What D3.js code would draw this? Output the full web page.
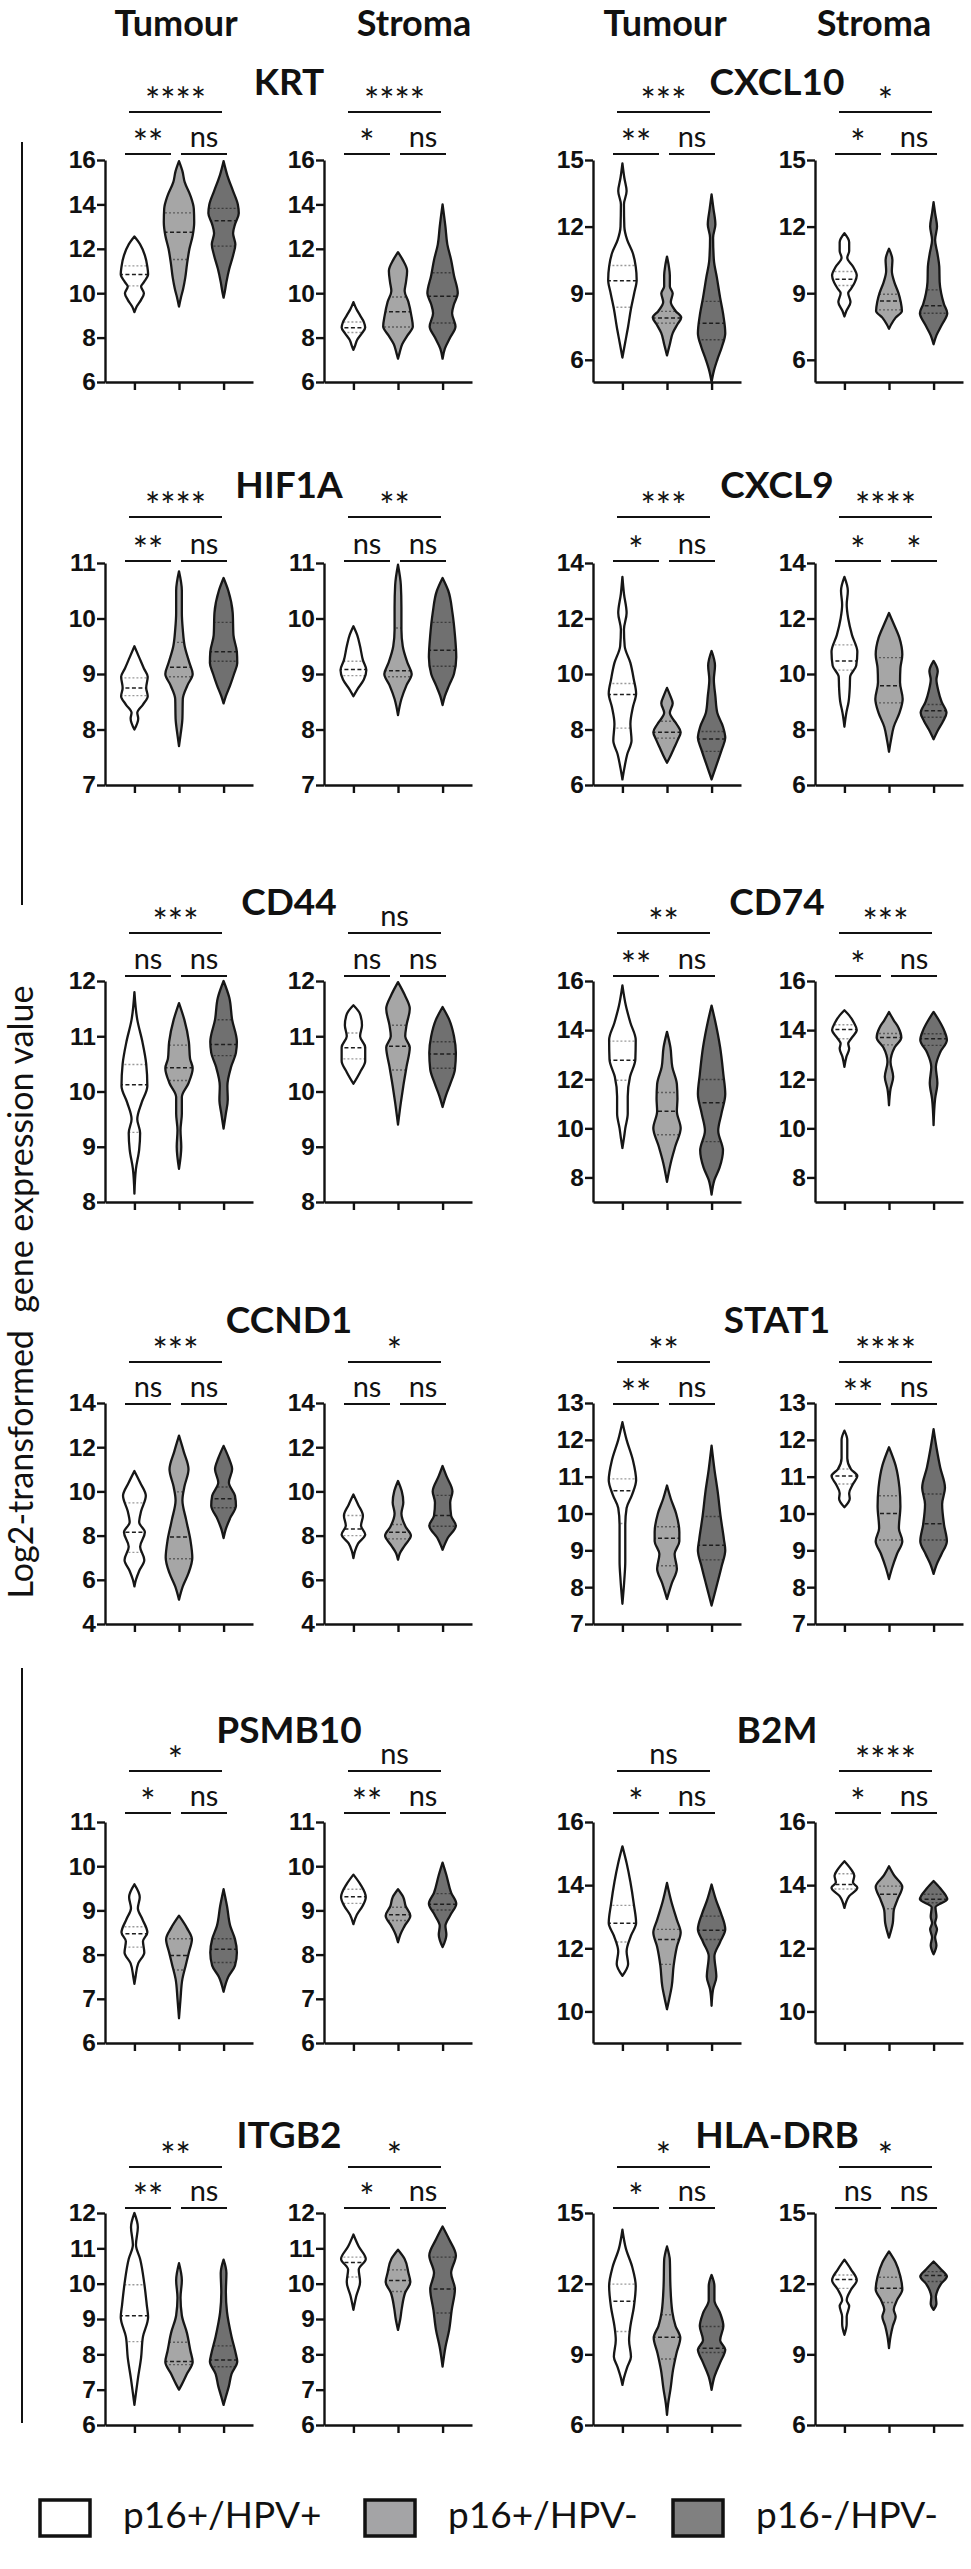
<!DOCTYPE html>
<html lang="en">
<head>
  <meta charset="UTF-8">
  <title>Violin panels</title>
  <style>
    body { margin: 0; background: #fff; }
    svg text { fill: #111; }
  </style>
  <script src="https://d3js.org/d3.v7.min.js"></script>
</head>
<body>
  <div id="chart"></div>
  <script>
    // -----------------------------
    // Data
    // -----------------------------
    const groups = ["p16+/HPV+", "p16+/HPV-", "p16-/HPV-"];
    const genes = ["KRT", "CXCL10", "HIF1A", "CXCL9", "CD44", "CD74",
                   "CCND1", "STAT1", "PSMB10", "B2M", "ITGB2", "HLA-DRB"];
    const yDomains = [[6, 16], [5, 15], [7, 11], [6, 14], [8, 12], [7, 16],
                      [4, 14], [7, 13], [6, 11], [9, 16], [6, 12], [6, 15]];
    const yTicks = [
      [6, 8, 10, 12, 14, 16], [6, 9, 12, 15], [7, 8, 9, 10, 11], [6, 8, 10, 12, 14],
      [8, 9, 10, 11, 12], [8, 10, 12, 14, 16], [4, 6, 8, 10, 12, 14], [7, 8, 9, 10, 11, 12, 13],
      [6, 7, 8, 9, 10, 11], [10, 12, 14, 16], [6, 7, 8, 9, 10, 11, 12], [6, 9, 12, 15]
    ];
    // [overall, group1 vs 2, group2 vs 3]
    const sigTumour = [["****", "**", "ns"], ["***", "**", "ns"], ["****", "**", "ns"], ["***", "*", "ns"],
                       ["***", "ns", "ns"], ["**", "**", "ns"], ["***", "ns", "ns"], ["**", "**", "ns"],
                       ["*", "*", "ns"], ["ns", "*", "ns"], ["**", "**", "ns"], ["*", "*", "ns"]];
    const sigStroma = [["****", "*", "ns"], ["*", "*", "ns"], ["**", "ns", "ns"], ["****", "*", "*"],
                       ["ns", "ns", "ns"], ["***", "*", "ns"], ["*", "ns", "ns"], ["****", "**", "ns"],
                       ["ns", "**", "ns"], ["****", "*", "ns"], ["*", "*", "ns"], ["*", "ns", "ns"]];

    // violins per gene: tumour x3 then stroma x3
    // q = [Q1, median, Q3]; d = [value, relative density]
    const vKRT = [
      {q: [10.33, 10.84, 11.23], d: [[12.55,0],[12.2,0.3],[11.7,0.55],[11.2,0.68],[10.85,0.72],[10.5,0.5],[10.3,0.35],[10.0,0.5],[9.7,0.35],[9.4,0.12],[9.15,0]]},
      {q: [11.52, 12.74, 13.62], d: [[15.95,0],[15.5,0.18],[15.0,0.3],[14.4,0.6],[13.8,0.78],[13.2,0.8],[12.6,0.72],[12.0,0.55],[11.3,0.42],[10.7,0.33],[10.2,0.22],[9.8,0.1],[9.4,0]]},
      {q: [12.12, 13.26, 13.82], d: [[15.95,0],[15.3,0.2],[14.6,0.5],[14.0,0.75],[13.6,0.8],[13.1,0.6],[12.7,0.5],[12.2,0.62],[11.7,0.5],[11.1,0.3],[10.5,0.15],[10.0,0.05],[9.8,0]]},
      {q: [8.23, 8.44, 8.7], d: [[9.6,0],[9.3,0.15],[9.0,0.35],[8.7,0.55],[8.45,0.62],[8.2,0.45],[7.9,0.2],[7.6,0.07],[7.45,0]]},
      {q: [8.48, 9.16, 9.83], d: [[11.85,0],[11.5,0.25],[11.0,0.48],[10.5,0.42],[10.1,0.35],[9.6,0.55],[9.0,0.7],[8.5,0.78],[8.1,0.5],[7.7,0.22],[7.3,0.08],[7.05,0]]},
      {q: [8.66, 9.86, 10.92], d: [[14.0,0],[13.0,0.15],[12.2,0.25],[11.5,0.45],[10.8,0.6],[10.0,0.8],[9.5,0.6],[9.1,0.5],[8.5,0.68],[8.0,0.4],[7.5,0.12],[7.05,0]]}
    ];
    const vCXCL10 = [
      {q: [8.37, 9.56, 10.25], d: [[14.85,0],[14.2,0.1],[13.6,0.22],[13.0,0.08],[12.0,0.1],[11.4,0.25],[10.8,0.55],[10.2,0.7],[9.6,0.75],[9.0,0.62],[8.3,0.45],[7.5,0.3],[6.8,0.15],[6.1,0]]},
      {q: [7.65, 7.88, 8.18], d: [[10.65,0],[10.2,0.1],[9.8,0.15],[9.3,0.15],[9.0,0.3],[8.6,0.2],[8.2,0.45],[7.9,0.75],[7.6,0.55],[7.2,0.3],[6.7,0.15],[6.2,0]]},
      {q: [6.9, 7.65, 8.63], d: [[13.45,0],[12.8,0.1],[12.1,0.2],[11.5,0.08],[10.5,0.12],[9.7,0.28],[8.8,0.45],[8.0,0.62],[7.2,0.72],[6.6,0.55],[6.0,0.3],[5.5,0.12],[5.0,0]]},
      {q: [9.35, 9.63, 9.98], d: [[11.7,0],[11.3,0.25],[10.9,0.25],[10.6,0.15],[10.2,0.45],[9.8,0.65],[9.5,0.55],[9.2,0.35],[9.0,0.2],[8.6,0.32],[8.2,0.1],[7.95,0]]},
      {q: [8.25, 8.65, 8.95], d: [[11.0,0],[10.5,0.18],[10.0,0.15],[9.5,0.28],[9.0,0.5],[8.6,0.62],[8.2,0.68],[7.9,0.35],[7.6,0.12],[7.4,0]]},
      {q: [8.1, 8.43, 9.15], d: [[13.1,0],[12.6,0.08],[12.0,0.18],[11.4,0.08],[10.8,0.2],[10.2,0.3],[9.5,0.32],[9.0,0.4],[8.5,0.55],[8.1,0.72],[7.6,0.45],[7.1,0.15],[6.7,0]]}
    ];
    const vHIF1A = [
      {q: [8.61, 8.75, 8.93], d: [[9.5,0],[9.3,0.25],[9.1,0.5],[8.95,0.7],[8.75,0.62],[8.6,0.7],[8.45,0.45],[8.3,0.15],[8.2,0.2],[8.0,0]]},
      {q: [8.95, 9.12, 9.57], d: [[10.85,0],[10.5,0.15],[10.1,0.15],[9.8,0.2],[9.5,0.3],[9.2,0.55],[9.0,0.72],[8.8,0.45],[8.55,0.2],[8.2,0.18],[7.9,0.08],[7.7,0]]},
      {q: [9.23, 9.4, 9.93], d: [[10.73,0],[10.5,0.25],[10.1,0.48],[9.7,0.52],[9.4,0.7],[9.2,0.72],[9.0,0.55],[8.8,0.35],[8.6,0.12],[8.47,0]]},
      {q: [8.97, 9.08, 9.23], d: [[9.86,0],[9.7,0.2],[9.5,0.35],[9.25,0.5],[9.07,0.68],[8.9,0.55],[8.72,0.2],[8.6,0]]},
      {q: [8.95, 9.06, 9.83], d: [[10.97,0],[10.6,0.15],[10.2,0.18],[9.8,0.18],[9.5,0.25],[9.2,0.5],[9.0,0.72],[8.8,0.45],[8.55,0.18],[8.26,0]]},
      {q: [9.14, 9.43, 9.93], d: [[10.73,0],[10.5,0.3],[10.1,0.52],[9.7,0.65],[9.3,0.72],[9.0,0.6],[8.8,0.35],[8.6,0.12],[8.44,0]]}
    ];
    const vCXCL9 = [
      {q: [8.05, 9.26, 9.66], d: [[13.5,0],[12.9,0.08],[12.2,0.22],[11.6,0.08],[11.0,0.12],[10.4,0.42],[9.8,0.6],[9.3,0.72],[8.8,0.55],[8.2,0.42],[7.6,0.48],[7.1,0.25],[6.6,0.1],[6.2,0]]},
      {q: [7.69, 7.9, 8.3], d: [[9.5,0],[9.2,0.18],[8.95,0.3],[8.6,0.15],[8.2,0.5],[7.9,0.72],[7.6,0.55],[7.3,0.35],[7.0,0.15],[6.8,0]]},
      {q: [7.21, 7.66, 7.93], d: [[10.83,0],[10.3,0.18],[9.8,0.12],[9.2,0.2],[8.6,0.3],[8.1,0.6],[7.7,0.72],[7.3,0.55],[6.9,0.35],[6.5,0.15],[6.2,0]]},
      {q: [10.14, 10.47, 11.05], d: [[13.5,0],[13.0,0.18],[12.5,0.12],[12.0,0.2],[11.4,0.4],[10.8,0.68],[10.3,0.62],[9.9,0.3],[9.5,0.28],[9.0,0.22],[8.6,0.1],[8.1,0]]},
      {q: [8.96, 9.58, 10.59], d: [[12.2,0],[11.8,0.25],[11.3,0.55],[10.7,0.7],[10.2,0.6],[9.7,0.58],[9.1,0.72],[8.6,0.55],[8.1,0.25],[7.6,0.1],[7.2,0]]},
      {q: [8.44, 8.68, 8.9], d: [[10.47,0],[10.1,0.22],[9.8,0.15],[9.4,0.25],[9.0,0.42],[8.6,0.68],[8.3,0.5],[8.0,0.25],[7.65,0]]}
    ];
    const vCD44 = [
      {q: [9.26, 10.12, 10.49], d: [[11.8,0],[11.3,0.15],[10.9,0.42],[10.5,0.62],[10.1,0.68],[9.8,0.38],[9.5,0.15],[9.25,0.3],[8.95,0.25],[8.6,0.08],[8.15,0]]},
      {q: [10.2, 10.43, 10.84], d: [[11.6,0],[11.3,0.28],[10.9,0.52],[10.6,0.58],[10.42,0.72],[10.15,0.5],[9.9,0.15],[9.6,0.15],[9.3,0.08],[9.0,0.12],[8.6,0]]},
      {q: [10.65, 10.85, 11.3], d: [[12.0,0],[11.7,0.3],[11.3,0.45],[10.9,0.7],[10.7,0.65],[10.45,0.4],[10.1,0.2],[9.85,0.22],[9.6,0.12],[9.33,0]]},
      {q: [10.59, 10.79, 11.06], d: [[11.56,0],[11.4,0.35],[11.2,0.45],[11.0,0.35],[10.8,0.62],[10.55,0.62],[10.35,0.35],[10.14,0]]},
      {q: [10.39, 10.82, 11.2], d: [[11.98,0],[11.75,0.35],[11.5,0.62],[11.2,0.45],[11.0,0.38],[10.8,0.62],[10.45,0.45],[10.1,0.28],[9.8,0.15],[9.4,0]]},
      {q: [10.42, 10.68, 10.9], d: [[11.53,0],[11.3,0.35],[11.0,0.6],[10.7,0.7],[10.4,0.65],[10.15,0.42],[9.93,0.18],[9.72,0]]}
    ];
    const vCD74 = [
      {q: [11.96, 12.77, 13.55], d: [[15.82,0],[15.0,0.18],[14.3,0.42],[13.6,0.7],[12.8,0.68],[12.1,0.4],[11.3,0.28],[10.6,0.28],[10.0,0.15],[9.6,0.08],[9.2,0]]},
      {q: [9.74, 10.7, 11.46], d: [[13.93,0],[13.3,0.18],[12.5,0.28],[11.8,0.52],[11.2,0.55],[10.7,0.52],[10.0,0.72],[9.3,0.45],[8.6,0.2],[7.82,0]]},
      {q: [9.46, 11.04, 11.99], d: [[15.0,0],[14.4,0.18],[13.3,0.45],[12.2,0.62],[11.4,0.72],[10.6,0.52],[9.9,0.35],[9.1,0.6],[8.4,0.42],[7.9,0.15],[7.3,0]]},
      {q: [13.65, 14.02, 14.22], d: [[14.81,0],[14.6,0.25],[14.3,0.5],[14.0,0.65],[13.7,0.4],[13.45,0.2],[13.25,0.25],[12.9,0.1],[12.5,0]]},
      {q: [13.4, 13.7, 13.86], d: [[14.74,0],[14.4,0.25],[14.1,0.5],[13.7,0.65],[13.3,0.3],[12.7,0.08],[12.1,0.22],[11.6,0.08],[10.94,0]]},
      {q: [13.38, 13.65, 13.85], d: [[14.74,0],[14.4,0.28],[14.0,0.55],[13.6,0.7],[13.1,0.35],[12.5,0.12],[11.85,0.2],[11.2,0.08],[10.13,0]]}
    ];
    const vCCND1 = [
      {q: [7.24, 8.15, 9.48], d: [[10.92,0],[10.4,0.3],[9.8,0.6],[9.1,0.35],[8.6,0.25],[8.15,0.55],[7.5,0.3],[6.9,0.52],[6.4,0.25],[6.0,0.08],[5.7,0]]},
      {q: [6.95, 7.94, 9.98], d: [[12.52,0],[11.8,0.25],[11.0,0.5],[10.2,0.28],[9.6,0.18],[8.7,0.38],[7.8,0.6],[7.0,0.7],[6.3,0.5],[5.7,0.2],[5.1,0]]},
      {q: [9.26, 9.67, 10.2], d: [[12.06,0],[11.5,0.28],[11.0,0.45],[10.4,0.28],[9.8,0.6],[9.35,0.65],[8.8,0.35],[8.3,0.12],[7.89,0]]},
      {q: [8.0, 8.3, 8.91], d: [[9.86,0],[9.4,0.25],[8.9,0.5],[8.45,0.4],[8.05,0.62],[7.65,0.25],[7.3,0.08],[6.98,0]]},
      {q: [7.85, 8.15, 8.5], d: [[10.47,0],[10.0,0.2],[9.5,0.28],[9.0,0.18],[8.4,0.4],[8.0,0.68],[7.55,0.35],[7.2,0.1],[6.91,0]]},
      {q: [8.42, 8.91, 9.82], d: [[11.15,0],[10.7,0.2],[10.0,0.52],[9.5,0.4],[8.9,0.45],[8.45,0.7],[7.9,0.28],[7.36,0]]}
    ];
    const vSTAT1 = [
      {q: [9.73, 10.62, 10.94], d: [[12.48,0],[12.0,0.22],[11.45,0.55],[10.9,0.72],[10.5,0.5],[10.15,0.22],[9.7,0.15],[9.2,0.15],[8.7,0.15],[8.2,0.1],[7.55,0]]},
      {q: [8.58, 9.33, 9.64], d: [[10.76,0],[10.4,0.2],[10.0,0.48],[9.5,0.65],[9.25,0.65],[8.9,0.4],[8.5,0.52],[8.1,0.25],[7.68,0]]},
      {q: [8.74, 9.14, 9.92], d: [[11.84,0],[11.2,0.15],[10.6,0.32],[9.9,0.48],[9.3,0.65],[9.0,0.72],[8.55,0.52],[8.1,0.3],[7.8,0.15],[7.5,0]]},
      {q: [10.8, 11.02, 11.21], d: [[12.25,0],[12.0,0.15],[11.5,0.15],[11.2,0.35],[11.02,0.68],[10.8,0.45],[10.55,0.25],[10.4,0.28],[10.17,0]]},
      {q: [9.28, 10.0, 10.48], d: [[11.8,0],[11.3,0.35],[10.7,0.55],[10.2,0.6],[9.6,0.52],[9.25,0.7],[8.9,0.42],[8.5,0.15],[8.22,0]]},
      {q: [9.28, 9.72, 10.53], d: [[12.29,0],[11.8,0.15],[11.25,0.35],[10.7,0.6],[10.25,0.45],[9.7,0.55],[9.25,0.7],[8.9,0.42],[8.6,0.15],[8.36,0]]}
    ];
    const vPSMB10 = [
      {q: [8.17, 8.47, 8.63], d: [[9.59,0],[9.3,0.28],[9.05,0.18],[8.8,0.42],[8.5,0.68],[8.3,0.45],[8.05,0.52],[7.8,0.2],[7.5,0.06],[7.34,0]]},
      {q: [7.65, 7.98, 8.36], d: [[8.88,0],[8.6,0.42],[8.35,0.68],[8.05,0.52],[7.75,0.35],[7.45,0.18],[7.0,0.08],[6.56,0]]},
      {q: [7.82, 8.12, 8.36], d: [[9.48,0],[9.1,0.18],[8.65,0.35],[8.35,0.6],[8.05,0.7],[7.75,0.6],[7.5,0.25],[7.16,0]]},
      {q: [9.16, 9.31, 9.48], d: [[9.81,0],[9.6,0.35],[9.3,0.65],[9.1,0.48],[8.9,0.18],[8.69,0]]},
      {q: [8.77, 8.9, 9.07], d: [[9.48,0],[9.3,0.28],[9.1,0.4],[8.88,0.65],[8.65,0.35],[8.45,0.12],[8.28,0]]},
      {q: [9.01, 9.14, 9.38], d: [[10.08,0],[9.8,0.2],[9.4,0.45],[9.15,0.72],[8.9,0.42],[8.65,0.15],[8.45,0.2],[8.17,0]]}
    ];
    const vB2M = [
      {q: [12.2, 12.79, 13.36], d: [[15.23,0],[14.7,0.22],[14.1,0.42],[13.4,0.6],[12.8,0.72],[12.4,0.45],[11.9,0.22],[11.5,0.3],[11.13,0]]},
      {q: [11.49, 12.28, 12.6], d: [[14.07,0],[13.5,0.22],[12.9,0.52],[12.5,0.72],[12.05,0.52],[11.45,0.35],[10.8,0.25],[10.4,0.12],[10.07,0]]},
      {q: [12.28, 12.57, 13.02], d: [[14.02,0],[13.5,0.25],[13.1,0.5],[12.6,0.72],[12.2,0.45],[11.75,0.15],[11.1,0.25],[10.7,0.08],[10.18,0]]},
      {q: [13.88, 14.02, 14.36], d: [[14.76,0],[14.5,0.35],[14.3,0.52],[14.08,0.45],[13.92,0.68],[13.65,0.25],[13.28,0]]},
      {q: [13.25, 13.71, 13.97], d: [[14.6,0],[14.3,0.28],[13.95,0.7],[13.55,0.45],[13.2,0.25],[12.8,0.2],[12.34,0]]},
      {q: [13.44, 13.55, 13.71], d: [[14.13,0],[13.9,0.35],[13.55,0.72],[13.3,0.1],[13.0,0.15],[12.8,0.08],[12.6,0.18],[12.35,0.08],[12.1,0.15],[11.81,0]]}
    ];
    const vITGB2 = [
      {q: [8.36, 9.09, 9.97], d: [[12.0,0],[11.6,0.18],[11.1,0.08],[10.7,0.3],[10.0,0.52],[9.4,0.65],[9.05,0.72],[8.5,0.45],[7.9,0.35],[7.3,0.18],[6.9,0.08],[6.57,0]]},
      {q: [7.71, 7.8, 8.34], d: [[10.58,0],[10.1,0.15],[9.6,0.08],[9.1,0.15],[8.6,0.42],[8.1,0.6],[7.78,0.72],[7.45,0.42],[7.15,0.15],[7.0,0]]},
      {q: [7.65, 7.84, 8.24], d: [[10.68,0],[10.3,0.15],[9.75,0.12],[9.2,0.18],[8.5,0.42],[8.0,0.65],[7.8,0.72],[7.45,0.42],[7.1,0.28],[6.8,0.12],[6.57,0]]},
      {q: [10.19, 10.6, 10.75], d: [[11.39,0],[11.05,0.28],[10.7,0.65],[10.4,0.28],[10.05,0.35],[9.65,0.15],[9.26,0]]},
      {q: [9.78, 10.09, 10.39], d: [[10.96,0],[10.7,0.35],[10.3,0.55],[10.05,0.65],[9.75,0.38],[9.3,0.2],[9.0,0.12],[8.69,0]]},
      {q: [9.17, 9.85, 10.75], d: [[11.62,0],[11.25,0.35],[10.8,0.7],[10.3,0.45],[9.85,0.65],[9.25,0.48],[8.7,0.35],[8.2,0.15],[7.65,0]]}
    ];
    const vHLADRB = [
      {q: [9.97, 11.25, 11.98], d: [[14.29,0],[13.5,0.18],[12.7,0.52],[11.9,0.7],[11.0,0.6],[10.2,0.42],[9.6,0.35],[8.9,0.45],[8.45,0.25],[8.0,0.08],[7.7,0]]},
      {q: [8.8, 9.72, 10.68], d: [[13.58,0],[13.0,0.15],[11.9,0.18],[10.8,0.28],[10.2,0.45],[9.7,0.7],[9.05,0.5],[8.35,0.32],[7.5,0.18],[6.9,0.06],[6.43,0]]},
      {q: [9.08, 9.26, 10.18], d: [[12.37,0],[11.9,0.15],[11.3,0.15],[10.75,0.45],[10.2,0.62],[9.6,0.45],[9.2,0.72],[8.65,0.45],[8.05,0.15],[7.49,0]]},
      {q: [11.8, 12.18, 12.37], d: [[13.02,0],[12.6,0.35],[12.15,0.65],[11.75,0.35],[11.3,0.12],[11.05,0.25],[10.6,0.12],[10.3,0.12],[9.83,0]]},
      {q: [11.2, 11.81, 12.27], d: [[13.37,0],[12.9,0.35],[12.3,0.6],[11.75,0.7],[11.3,0.42],[10.9,0.25],[10.6,0.35],[10.2,0.2],[9.75,0.08],[9.26,0]]},
      {q: [12.09, 12.35, 12.51], d: [[12.94,0],[12.6,0.4],[12.3,0.7],[12.0,0.4],[11.7,0.2],[11.45,0.12],[11.15,0.15],[10.89,0]]}
    ];
    const violinSets = [vKRT, vCXCL10, vHIF1A, vCXCL9, vCD44, vCD74,
                        vCCND1, vSTAT1, vPSMB10, vB2M, vITGB2, vHLADRB];

    // -----------------------------
    // Layout + styles
    // -----------------------------
    const width = 971, height = 2569;
    const fills = ["#ffffff", "#a6a6a6", "#707070"];
    const legendFills = ["#ffffff", "#a4a4a6", "#808080"];
    const quartColor = ["#9a9a9a", "#5e5e5e", "#3c3c3c"];
    const colX = [105, 324, 593, 815];
    const panelW = 148;
    const rowTop = [160, 563, 981, 1403, 1822, 2213];
    const rowH = [222, 222, 221, 221, 221, 212];
    const titleBase = [95, 498, 915, 1333, 1743, 2148];
    const barUp = [-48, -46, -48, -41, -51, -46];
    const barLow = [-6, -2, -5, 1, -9, -5];
    const FONT = "Lato, 'Open Sans', sans-serif";
    const TICKFONT = "'Liberation Sans', Arial, sans-serif";

    const svg = d3.select("#chart").append("svg")
      .attr("width", width)
      .attr("height", height);

    const defs = svg.append("defs");
    const wScale = d3.scaleLinear().domain([0, 1]).range([0, 19]);

    // column headers
    [["Tumour", 176], ["Stroma", 414], ["Tumour", 665], ["Stroma", 874]].forEach(([t, x]) => {
      svg.append("text")
        .attr("x", x).attr("y", 36)
        .attr("text-anchor", "middle")
        .style("font-family", FONT).style("font-weight", 700).style("font-size", "36px")
        .text(t);
    });

    // left brackets + axis title
    svg.append("line").attr("x1", 22).attr("x2", 22).attr("y1", 142).attr("y2", 905)
      .attr("stroke", "#111").attr("stroke-width", 2);
    svg.append("line").attr("x1", 22).attr("x2", 22).attr("y1", 1668).attr("y2", 2423)
      .attr("stroke", "#111").attr("stroke-width", 2);
    svg.append("text")
      .attr("transform", "translate(33,1292) rotate(-90)")
      .attr("text-anchor", "middle")
      .style("font-family", FONT).style("font-size", "34px")
      .style("white-space", "pre")
      .text("Log2-transformed  gene expression value");

    function sigLabel(x, y, label) {
      const isStar = label.indexOf("*") >= 0;
      svg.append("text")
        .attr("x", x)
        .attr("y", isStar ? y + 9 : y)
        .attr("text-anchor", "middle")
        .style("font-family", FONT)
        .style("font-size", isStar ? "36px" : "29px")
        .style("letter-spacing", "0px")
        .text(label);
    }

    function drawPanel(gi, p, x0, row) {
      const top = rowTop[row], h = rowH[row];
      const y = d3.scaleLinear().domain(yDomains[gi]).range([top + h, top]);
      const x = d3.scalePoint().domain(groups).range([x0, x0 + panelW]).padding(0.66);

      const yAxis = svg.append("g")
        .attr("transform", `translate(${x0},0)`)
        .call(d3.axisLeft(y).tickValues(yTicks[gi]).tickFormat(d3.format("d"))
          .tickSize(8).tickSizeOuter(0).tickPadding(1));
      const xAxis = svg.append("g")
        .attr("transform", `translate(0,${top + h})`)
        .call(d3.axisBottom(x).tickSize(8).tickSizeOuter(0).tickFormat(""));
      [yAxis, xAxis].forEach(a => {
        a.selectAll("path, line").attr("stroke", "#111").attr("stroke-width", 2.4);
      });
      yAxis.selectAll("text")
        .style("font-family", TICKFONT).style("font-weight", 700).style("font-size", "24.5px")
        .attr("fill", "#111");

      // violins
      const vs = violinSets[gi].slice(p * 3, p * 3 + 3);
      vs.forEach((v, i) => {
        const cx = x(groups[i]);
        const area = d3.area()
          .curve(d3.curveMonotoneY)
          .y(d => y(d[0]))
          .x0(d => cx - wScale(d[1]))
          .x1(d => cx + wScale(d[1]));
        const pathD = area(v.d);
        const cid = `clip-${gi}-${p}-${i}`;
        defs.append("clipPath").attr("id", cid).append("path").attr("d", pathD);

        svg.append("path").attr("d", pathD).attr("fill", fills[i]);
        const lines = svg.append("g").attr("clip-path", `url(#${cid})`);
        v.q.forEach((q, k) => {
          lines.append("line")
            .attr("x1", cx - 22).attr("x2", cx + 22)
            .attr("y1", y(q)).attr("y2", y(q))
            .attr("stroke", k === 1 ? "#1e1e1e" : quartColor[i])
            .attr("stroke-width", k === 1 ? 1.5 : 1.4)
            .attr("stroke-dasharray", k === 1 ? "4,2.5" : "2,2");
        });
        svg.append("path").attr("d", pathD)
          .attr("fill", "none").attr("stroke", "#161616").attr("stroke-width", 2.3)
          .attr("stroke-linejoin", "round");
      });

      // significance bars
      const sig = p === 0 ? sigTumour[gi] : sigStroma[gi];
      const yU = top + barUp[row], yL = top + barLow[row];
      const bars = [[x0 + 24, x0 + 117, yU], [x0 + 20, x0 + 66, yL], [x0 + 76, x0 + 122, yL]];
      bars.forEach(([a, b, yy], k) => {
        svg.append("line").attr("x1", a).attr("x2", b).attr("y1", yy).attr("y2", yy)
          .attr("stroke", "#111").attr("stroke-width", 2.2);
        sigLabel((a + b) / 2, yy - 7, sig[k]);
      });
    }

    genes.forEach((gene, gi) => {
      const row = Math.floor(gi / 2), side = gi % 2;
      svg.append("text")
        .attr("x", side === 0 ? 289 : 777).attr("y", titleBase[row])
        .attr("text-anchor", "middle")
        .style("font-family", FONT).style("font-weight", 700).style("font-size", "37px")
        .text(gene);
      drawPanel(gi, 0, colX[side * 2], row);
      drawPanel(gi, 1, colX[side * 2 + 1], row);
    });

    // legend
    const legendX = [40, 365, 673];
    groups.forEach((g, i) => {
      svg.append("rect")
        .attr("x", legendX[i]).attr("y", 2500).attr("width", 50).attr("height", 36)
        .attr("fill", legendFills[i]).attr("stroke", "#111").attr("stroke-width", 3.5);
      svg.append("text")
        .attr("x", legendX[i] + 83).attr("y", 2528)
        .style("font-family", FONT).style("font-size", "37px")
        .text(g);
    });
  </script>
</body>
</html>
